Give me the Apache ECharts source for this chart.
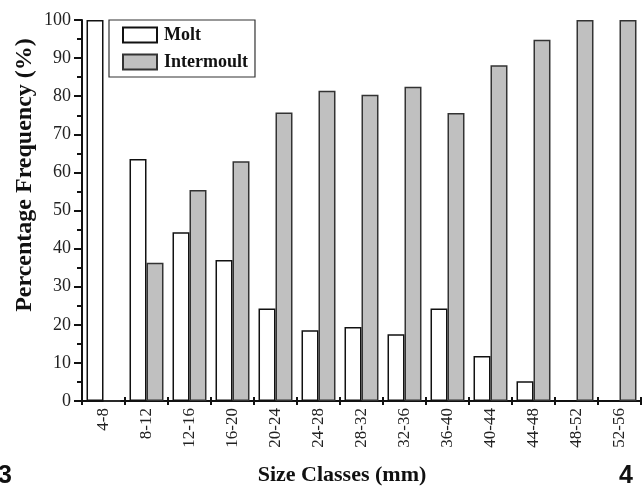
<!DOCTYPE html>
<html>
<head>
<meta charset="utf-8">
<script src="https://cdn.jsdelivr.net/npm/echarts@6/dist/echarts.min.js"></script>
<style>
html,body{margin:0;padding:0;background:#fff;}
#chart{width:644px;height:489px;}
</style>
</head>
<body>
<div id="chart"></div>
<script>
var categories = ['4-8','8-12','12-16','16-20','20-24','24-28','28-32','32-36','36-40','40-44','44-48','48-52','52-56'];
var molt = [100, 63.5, 44.3, 37.0, 24.3, 18.6, 19.4, 17.5, 24.3, 11.8, 5.2, 0, 0];
var intermoult = [0, 36.3, 55.4, 62.9, 75.7, 81.4, 80.4, 82.5, 75.6, 88.1, 94.8, 100, 100];
var yTicks = [0, 10, 20, 30, 40, 50, 60, 70, 80, 90, 100];

var serif = 'Liberation Serif';
var chart = echarts.init(document.getElementById('chart'), null, {renderer: 'canvas'});
var option = {
  animation: false,
  backgroundColor: '#fff',
  grid: {left: 82, right: 3, top: 20, bottom: 88, containLabel: false},
  legend: {
    orient: 'vertical',
    left: 109, top: 20,
    padding: [6, 7, 6, 13],
    itemGap: 9,
    itemWidth: 34, itemHeight: 15,
    borderColor: '#333', borderWidth: 1.2,
    icon: 'rect',
    textStyle: {fontFamily: serif, fontWeight: 'bold', fontSize: 18, color: '#111', padding: [0, 0, 0, 2]},
    data: ['Molt', 'Intermoult']
  },
  xAxis: [{
    type: 'category',
    data: categories,
    position: 'bottom',
    boundaryGap: true,
    axisLine: {lineStyle: {color: '#111', width: 2}},
    axisTick: {show: true, inside: true, length: 4, lineStyle: {color: '#111', width: 2}},
    axisLabel: {rotate: 90, margin: 7, interval: 0, fontFamily: serif, fontSize: 17, color: '#222'},
    splitLine: {show: false}
  }, {
    type: 'category',
    data: categories,
    position: 'bottom',
    offset: 0,
    boundaryGap: true,
    axisLine: {show: false},
    axisTick: {show: true, inside: false, length: 4, lineStyle: {color: '#111', width: 2}},
    axisLabel: {show: false},
    splitLine: {show: false}
  }],
  yAxis: {
    type: 'value',
    min: yTicks[0], max: yTicks[yTicks.length - 1], interval: 10,
    axisLine: {show: true, lineStyle: {color: '#111', width: 2}},
    axisTick: {show: true, length: 8, lineStyle: {color: '#111', width: 2}},
    minorTick: {show: true, splitNumber: 2, length: 5, lineStyle: {color: '#111', width: 2}},
    axisLabel: {margin: 11, fontFamily: serif, fontSize: 18, color: '#222'},
    splitLine: {show: false}
  },
  series: [{
    name: 'Molt',
    type: 'bar',
    data: molt,
    barGap: '0%',
    barCategoryGap: '21%',
    itemStyle: {color: '#ffffff', borderColor: '#111', borderWidth: 1.5}
  }, {
    name: 'Intermoult',
    type: 'bar',
    data: intermoult,
    barGap: '0%',
    barCategoryGap: '21%',
    itemStyle: {color: '#c0c0c0', borderColor: '#333', borderWidth: 1.5}
  }],
  graphic: [{
    type: 'text',
    x: 25, y: 175,
    rotation: Math.PI / 2,
    style: {text: 'Percentage Frequency (%)', fontFamily: serif, fontWeight: 'bold', fontSize: 24, fill: '#111', textAlign: 'center', textVerticalAlign: 'middle'}
  }, {
    type: 'text',
    x: 342, y: 475,
    style: {text: 'Size Classes (mm)', fontFamily: serif, fontWeight: 'bold', fontSize: 22, fill: '#111', textAlign: 'center', textVerticalAlign: 'middle'}
  }, {
    type: 'text',
    x: -2, y: 476,
    style: {text: '3', fontFamily: 'Liberation Sans', fontWeight: 'bold', fontSize: 25, fill: '#111', textAlign: 'left', textVerticalAlign: 'middle'}
  }, {
    type: 'text',
    x: 619, y: 476,
    style: {text: '4', fontFamily: 'Liberation Sans', fontWeight: 'bold', fontSize: 25, fill: '#111', textAlign: 'left', textVerticalAlign: 'middle'}
  }]
};
chart.setOption(option);
</script>
</body>
</html>
